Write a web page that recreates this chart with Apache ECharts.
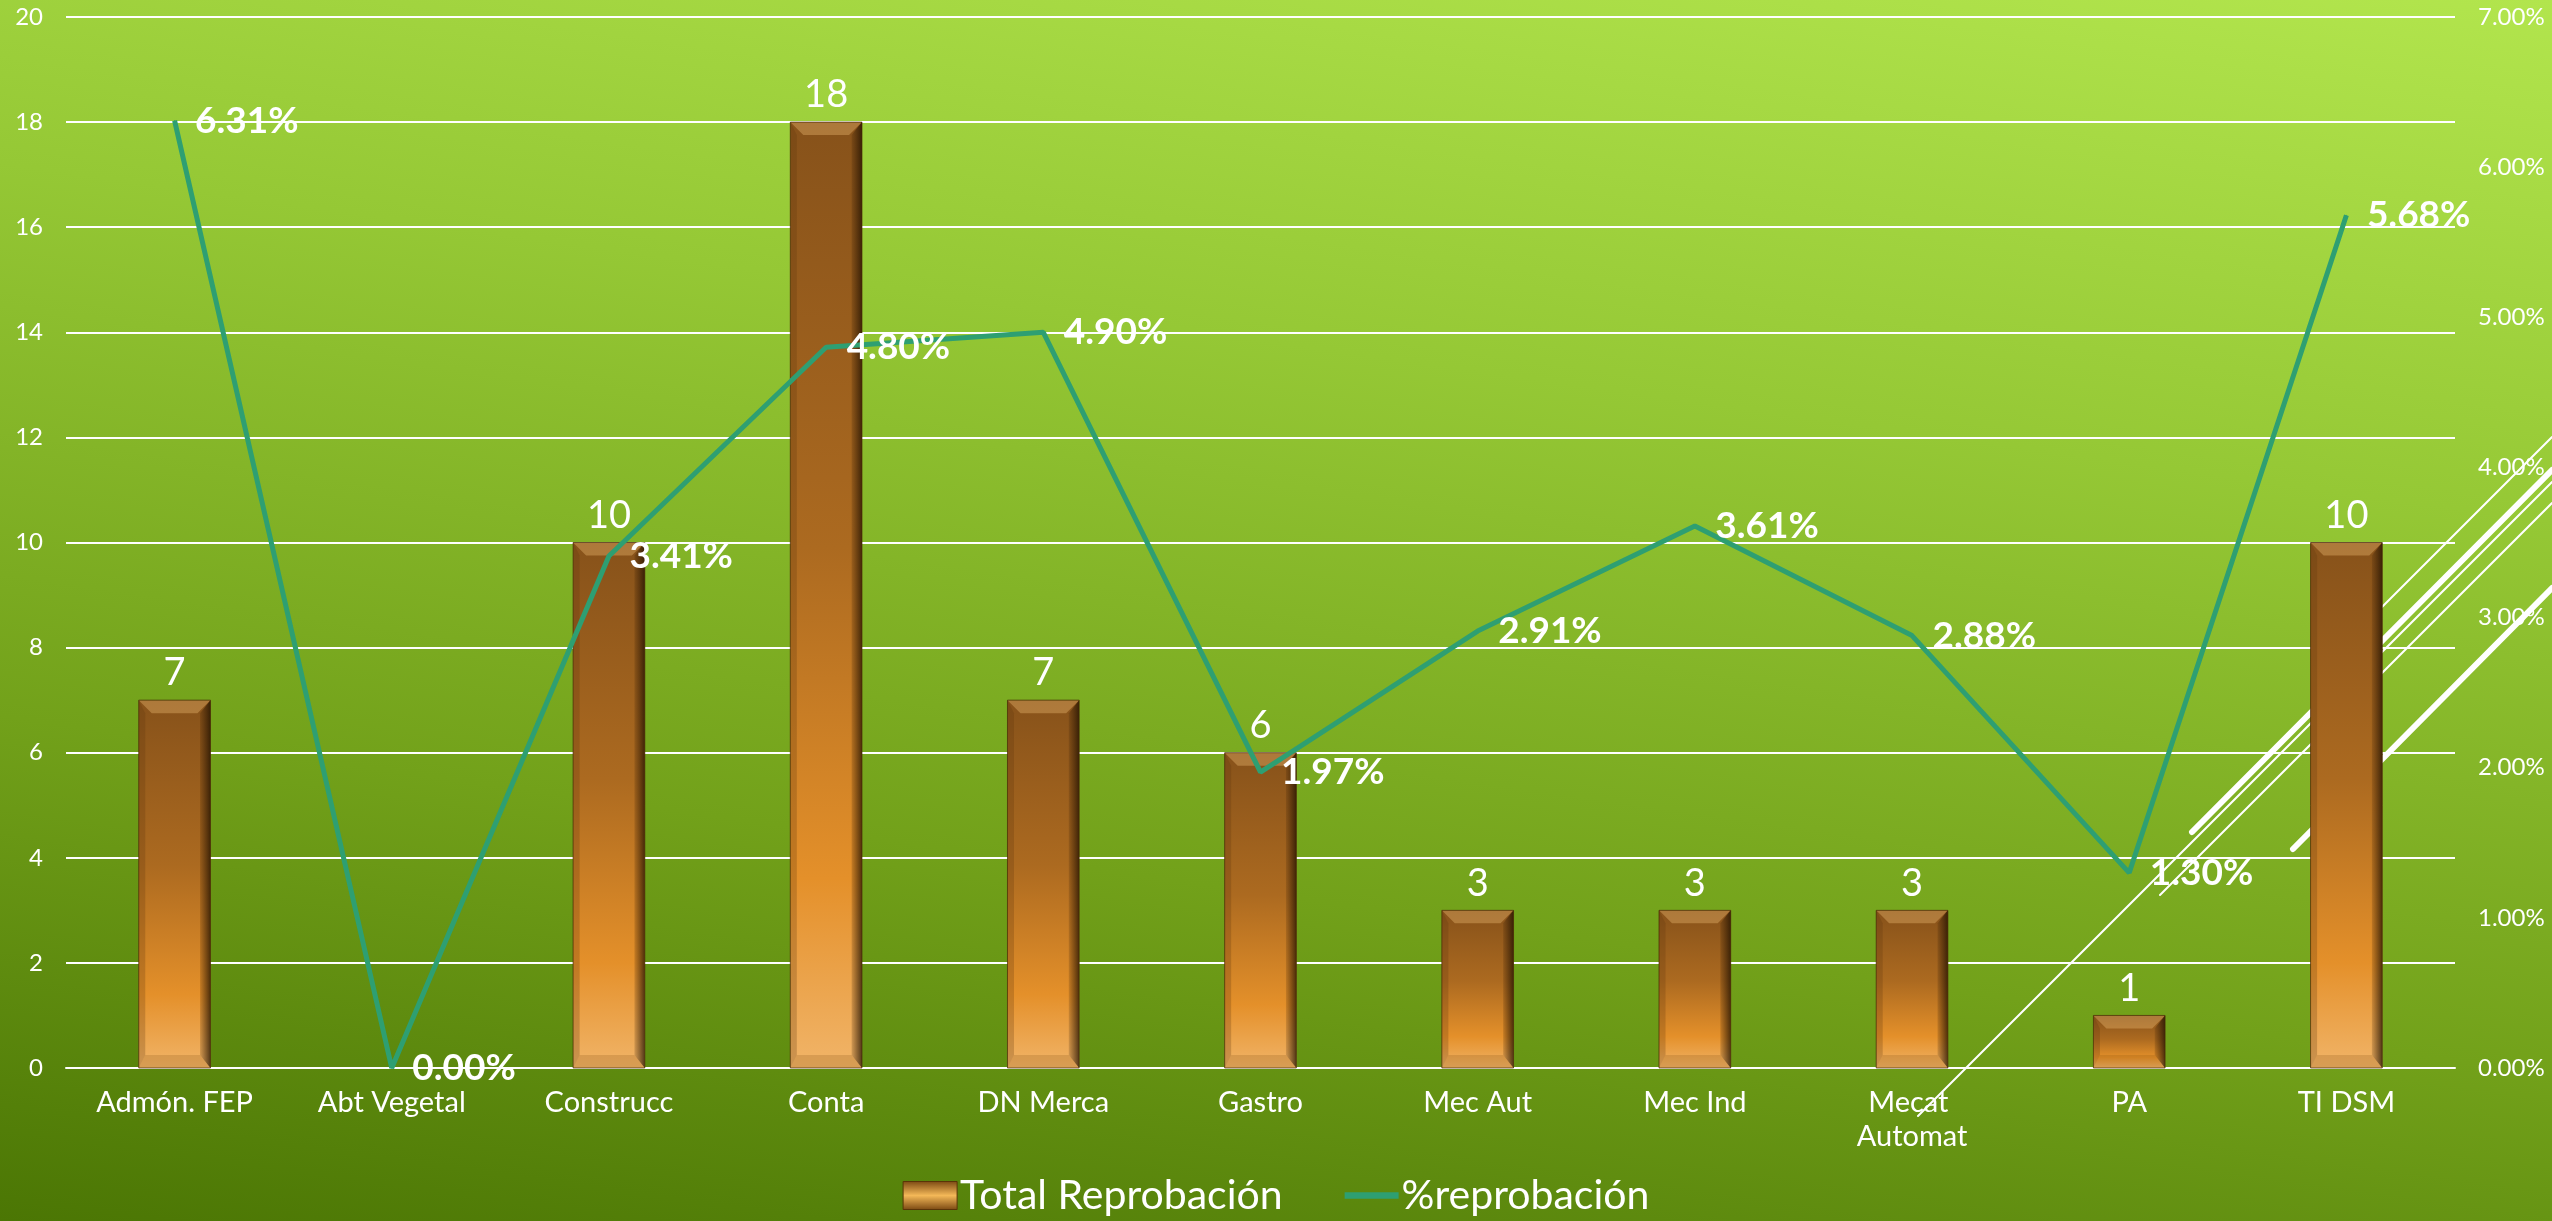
<!DOCTYPE html>
<html><head><meta charset="utf-8">
<script src="https://cdn.jsdelivr.net/npm/echarts@6/dist/echarts.min.js"></script>
<style>
html,body{margin:0;padding:0;width:100%;height:100%;overflow:hidden;background:linear-gradient(188deg,#b2e54d 0%,#95c835 33%,#72a11a 68%,#4b7604 100%);}
#chart{width:2552px;height:1221px;}
</style>
</head><body><div id="chart"></div>
<script>
const categories = ['Admón. FEP','Abt Vegetal','Construcc','Conta','DN Merca','Gastro','Mec Aut','Mec Ind','Mecat Automat','PA','TI DSM'];
const totalReprobacion = [7, 0, 10, 18, 7, 6, 3, 3, 3, 1, 10];
const pctReprobacion = [6.31, 0.00, 3.41, 4.80, 4.90, 1.97, 2.91, 3.61, 2.88, 1.30, 5.68];
const leftAxisTicks = {min: 0, max: 20, interval: 2};
const rightAxisTicks = {min: 0, max: 7, interval: 1};
const seriesNames = ['Total Reprobación', '%reprobación'];

const FONT = 'Lato';
const chart = echarts.init(document.getElementById('chart'), null, {renderer: 'canvas'});

const barGradient = new echarts.graphic.LinearGradient(0, 0, 0, 1, [
  {offset: 0, color: '#87521a'},
  {offset: 0.45, color: '#ac6a20'},
  {offset: 0.8, color: '#e4902a'},
  {offset: 1, color: '#f1b468'}
]);

function bevel(params, api) {
  const v = api.value(1);
  if (!v) return null;
  const idx = api.value(0);
  const top = api.coord([idx, v]);
  const base = api.coord([idx, 0]);
  const bw = api.size([1, 0])[0] * 0.33;
  const x0 = top[0] - bw / 2, x1 = top[0] + bw / 2, y0 = top[1], y1 = base[1];
  const b = Math.min(13, (y1 - y0) / 2.2);
  return {
    type: 'group',
    children: [
      {type: 'polygon', shape: {points: [[x0, y0], [x1, y0], [x1 - b, y0 + b], [x0 + b, y0 + b]]},
        style: {fill: 'rgba(255,205,130,0.32)'}},
      {type: 'polygon', shape: {points: [[x1, y0], [x1, y1], [x1 - b * 0.8, y1 - b], [x1 - b * 0.8, y0 + b]]},
        style: {fill: new echarts.graphic.LinearGradient(0, 0, 1, 0, [
          {offset: 0, color: 'rgba(40,20,0,0.15)'}, {offset: 1, color: 'rgba(30,15,0,0.75)'}])}},
      {type: 'polygon', shape: {points: [[x0, y0], [x0 + b * 0.5, y0 + b], [x0 + b * 0.5, y1 - b], [x0, y1]]},
        style: {fill: 'rgba(90,50,10,0.25)'}},
      {type: 'polygon', shape: {points: [[x0, y1], [x1, y1], [x1 - b * 0.8, y1 - b], [x0 + b * 0.5, y1 - b]]},
        style: {fill: 'rgba(120,70,10,0.2)'}},
      {type: 'rect', shape: {x: x0, y: y0, width: bw, height: y1 - y0},
        style: {fill: 'none', stroke: 'rgba(70,40,5,0.7)', lineWidth: 1}}
    ]
  };
}

const decoLines = [
  {x1: 2552, y1: 437, x2: 2370, y2: 619, w: 2},
  {x1: 2552, y1: 470, x2: 2192, y2: 832, w: 6},
  {x1: 2552, y1: 482, x2: 1918, y2: 1116, w: 2},
  {x1: 2552, y1: 503, x2: 2160, y2: 895, w: 2},
  {x1: 2552, y1: 588, x2: 2293, y2: 849, w: 6}
];

const option = {
  backgroundColor: 'transparent',
  animation: false,
  textStyle: {fontFamily: FONT, color: '#ffffff'},
  graphic: decoLines.map(l => ({
    type: 'line', z: 0, silent: true,
    shape: {x1: l.x1, y1: l.y1, x2: l.x2, y2: l.y2},
    style: {stroke: '#ffffff', lineWidth: l.w, lineCap: 'round'}
  })),
  grid: {left: 66, right: 97, top: 17, bottom: 153},
  legend: {
    bottom: 0, left: 'center', itemGap: 62, itemWidth: 54, itemHeight: 28,
    textStyle: {color: '#ffffff', fontSize: 41, fontFamily: FONT, padding: [0, 0, 0, -2]},
    data: [
      {name: seriesNames[0], icon: 'rect', itemStyle: {color: new echarts.graphic.LinearGradient(0, 0, 0, 1, [
        {offset: 0, color: '#7a4812'}, {offset: 0.5, color: '#f4b858'}, {offset: 1, color: '#7a4812'}]),
        borderColor: '#5a3408', borderWidth: 1}},
      {name: seriesNames[1], icon: 'path://M0,0H50V6H0Z', itemStyle: {color: '#2e9f72'}}
    ]
  },
  xAxis: {
    type: 'category', data: categories,
    axisLine: {show: true, lineStyle: {color: '#ffffff', width: 2}},
    axisTick: {show: false},
    axisLabel: {color: '#ffffff', fontSize: 29, fontFamily: FONT, margin: 18, interval: 0,
      width: 178, overflow: 'break', lineHeight: 34}
  },
  yAxis: [
    {type: 'value', min: leftAxisTicks.min, max: leftAxisTicks.max, interval: leftAxisTicks.interval,
      axisLine: {show: false}, axisTick: {show: false},
      splitLine: {show: true, lineStyle: {color: '#ffffff', width: 2}},
      axisLabel: {color: '#ffffff', fontSize: 24, fontFamily: FONT, margin: 23}},
    {type: 'value', min: rightAxisTicks.min, max: rightAxisTicks.max, interval: rightAxisTicks.interval,
      axisLine: {show: false}, axisTick: {show: false}, splitLine: {show: false},
      axisLabel: {color: '#ffffff', fontSize: 24, fontFamily: FONT, margin: 23,
        formatter: v => v.toFixed(2) + '%'}}
  ],
  series: [
    {
      name: seriesNames[0], type: 'bar', data: totalReprobacion, barWidth: '33%', z: 2,
      itemStyle: {color: barGradient},
      label: {show: true, position: 'top', distance: 8, color: '#ffffff', fontSize: 38, fontFamily: FONT,
        formatter: p => (p.value ? String(p.value) : '')}
    },
    {
      type: 'custom', name: 'bevel', data: totalReprobacion.map((v, i) => [i, v]),
      encode: {x: 0, y: 1}, renderItem: bevel, z: 3, silent: true, tooltip: {show: false}
    },
    {
      name: seriesNames[1], type: 'line', yAxisIndex: 1, data: pctReprobacion, z: 5,
      symbol: 'circle', symbolSize: 1, showSymbol: true,
      lineStyle: {color: '#2e9f72', width: 5}, itemStyle: {color: '#2e9f72'},
      label: {show: true, position: 'right', distance: 20, color: '#ffffff', fontSize: 37,
        fontWeight: 'bold', fontFamily: FONT, formatter: p => p.value.toFixed(2) + '%'}
    }
  ]
};
chart.setOption(option);
</script>
</body></html>
